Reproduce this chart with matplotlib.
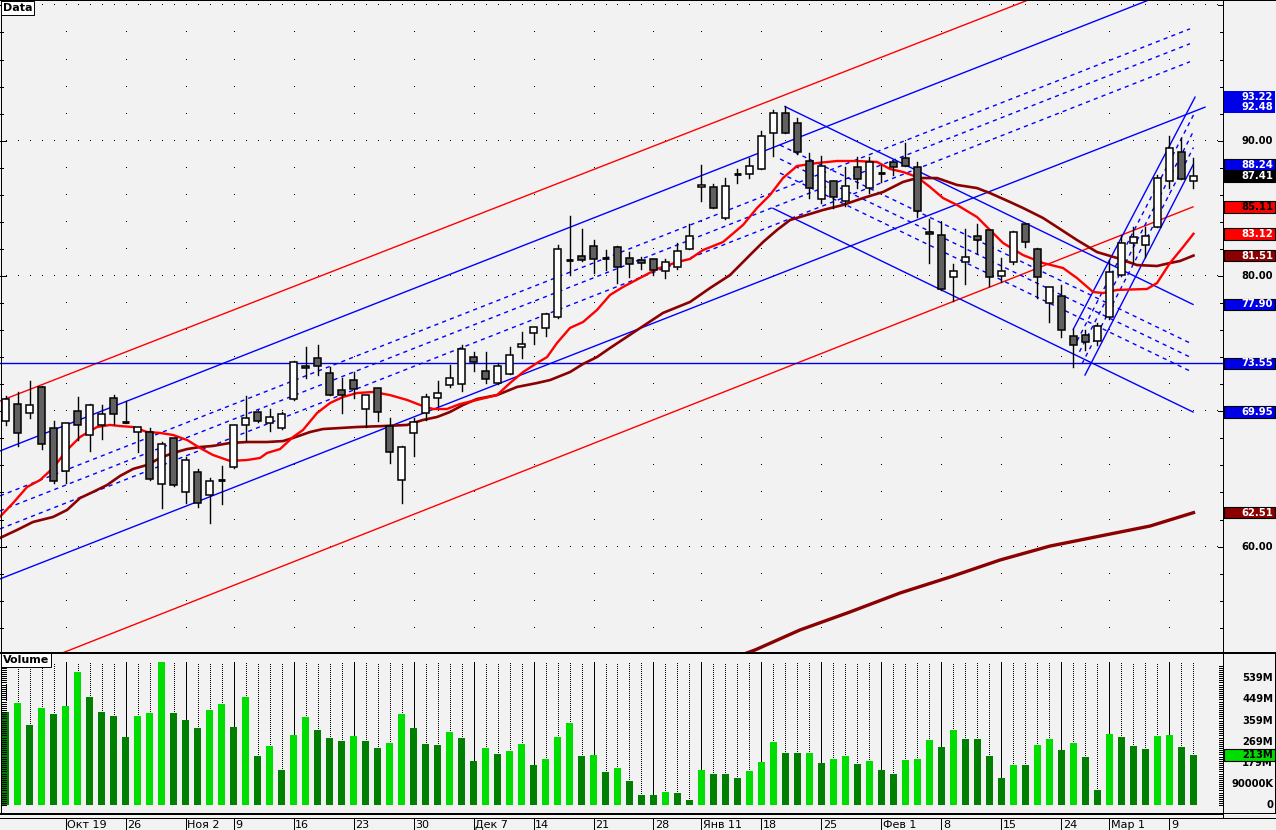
import numpy as np
import matplotlib.pyplot as plt
from matplotlib.patches import Rectangle
from matplotlib.lines import Line2D

# ---- Данные: дневные свечи (индекс = торговый день) ----
opens = [69.26, 70.51, 69.85, 71.77, 68.74, 65.56, 70.00, 68.22, 68.96, 70.96,
         69.23, 68.45, 68.45, 64.60, 68.00, 64.01, 65.49, 63.79, 64.90, 65.86,
         68.96, 69.92, 69.11, 68.74, 70.89, 73.35, 73.91, 72.81, 71.55, 72.29,
         70.14, 71.70, 68.94, 64.90, 68.37, 69.90, 70.96, 71.92, 72.00, 73.99,
         72.95, 72.07, 72.73, 74.73, 75.76, 76.13, 76.94, 81.18, 81.45, 82.19,
         81.33, 82.12, 81.31, 81.16, 81.23, 80.35, 80.64, 81.97, 86.58, 86.55,
         84.26, 87.56, 87.51, 87.91, 90.54, 92.02, 91.28, 88.48, 85.67, 87.00,
         85.54, 88.03, 86.48, 87.61, 88.40, 88.70, 88.08, 83.23, 83.00, 79.95,
         81.01, 82.98, 83.40, 79.99, 81.01, 83.82, 81.97, 78.00, 78.50, 75.54,
         75.61, 75.17, 76.94, 80.05, 82.41, 82.27, 83.60, 87.00, 89.14, 87.00]
highs = [71.10, 71.40, 72.24, 71.90, 69.28, 69.15, 71.06, 70.54, 70.47, 71.20,
         70.74, 68.85, 68.74, 67.76, 68.00, 66.60, 65.71, 65.05, 65.96, 69.00,
         71.13, 69.95, 70.17, 69.97, 73.74, 74.78, 74.90, 73.25, 72.44, 72.88,
         71.18, 71.70, 69.48, 67.44, 69.48, 71.28, 72.24, 73.45, 74.87, 74.41,
         74.36, 73.59, 74.75, 75.84, 76.21, 77.24, 82.29, 84.43, 83.47, 82.66,
         81.92, 82.24, 81.80, 81.43, 81.23, 81.23, 82.41, 83.82, 88.20, 86.78,
         87.22, 87.91, 88.70, 90.72, 92.27, 92.57, 91.70, 89.07, 88.87, 87.00,
         88.08, 88.80, 88.82, 88.20, 88.52, 89.85, 88.45, 84.19, 84.02, 80.89,
         83.47, 83.82, 83.40, 81.30, 83.33, 83.82, 82.09, 79.16, 79.33, 76.06,
         76.01, 76.50, 81.18, 83.03, 83.65, 83.65, 87.47, 90.35, 90.17, 88.70]
lows = [68.99, 67.44, 69.53, 67.19, 64.68, 64.73, 67.88, 67.09, 67.98, 69.04,
        69.11, 67.02, 64.95, 62.83, 64.50, 63.20, 62.95, 61.72, 63.12, 65.80,
        67.83, 69.22, 68.57, 68.70, 70.85, 72.49, 72.68, 71.17, 69.85, 71.00,
        68.87, 69.31, 66.15, 63.20, 66.72, 69.36, 70.39, 71.82, 71.53, 73.00,
        72.11, 72.02, 72.73, 73.96, 74.97, 75.59, 76.87, 80.07, 81.10, 80.25,
        80.44, 79.46, 79.95, 80.52, 80.07, 79.83, 80.52, 81.97, 85.57, 85.00,
        84.21, 86.85, 87.22, 87.90, 88.90, 90.54, 88.99, 85.79, 85.37, 85.00,
        85.17, 86.53, 86.16, 86.92, 87.47, 88.13, 84.34, 80.94, 79.00, 78.15,
        79.41, 81.67, 79.26, 79.56, 80.86, 82.17, 78.40, 76.62, 75.47, 73.25,
        74.53, 74.90, 76.80, 80.00, 80.98, 81.43, 83.60, 86.48, 87.14, 86.53]
closes = [70.88, 68.37, 70.44, 67.56, 64.87, 69.11, 68.96, 70.44, 69.78, 69.78,
          69.23, 68.82, 64.97, 67.56, 64.53, 66.40, 63.20, 64.82, 64.90, 68.96,
          69.53, 69.26, 69.60, 69.78, 73.67, 73.18, 73.35, 71.18, 71.18, 71.62,
          71.18, 69.92, 66.97, 67.34, 69.19, 71.03, 71.33, 72.44, 74.58, 73.62,
          72.36, 73.32, 74.14, 74.95, 76.21, 77.17, 81.97, 81.18, 81.16, 81.23,
          81.33, 80.69, 80.86, 80.94, 80.42, 81.04, 81.82, 82.93, 86.73, 85.00,
          86.63, 87.56, 88.15, 90.37, 92.02, 90.59, 89.19, 86.48, 88.13, 85.81,
          86.63, 87.15, 88.40, 87.61, 88.03, 88.13, 84.78, 83.08, 79.01, 80.34,
          81.43, 82.64, 79.95, 80.34, 83.23, 82.49, 79.90, 79.16, 75.98, 74.87,
          75.10, 76.28, 80.27, 82.41, 82.86, 82.93, 87.22, 89.44, 87.14, 87.41]
# объём, млн
volumes = [396, 434, 339, 412, 386, 420, 564, 458, 395, 378,
           288, 378, 390, 607, 390, 361, 327, 403, 429, 331,
           458, 208, 250, 148, 298, 375, 319, 286, 273, 294,
           273, 243, 264, 387, 328, 260, 256, 311, 286, 188,
           243, 218, 230, 260, 171, 196, 290, 349, 209, 213,
           141, 158, 103, 44, 44, 56, 52, 22, 150, 133,
           133, 116, 146, 184, 269, 222, 222, 224, 179, 196,
           209, 175, 188, 150, 133, 192, 196, 277, 247, 319,
           281, 281, 209, 116, 171, 171, 256, 281, 235, 264,
           205, 65, 302, 290, 252, 239, 294, 298, 247, 213]

# начало недель и подписи дат
week_idx = [5, 10, 15, 19, 24, 29, 34, 39, 44, 49, 54, 58, 63, 68, 73, 78, 83, 88, 92, 97]
week_lbl = ['Окт 19', '26', 'Ноя 2', '9', '16', '23', '30', 'Дек 7', '14', '21',
            '28', 'Янв 11', '18', '25', 'Фев 1', '8', '15', '24', 'Мар 1', '9']

# скользящие средние (индекс, цена)
ma_fast_x = [-0.46, 0.63, 1.79, 2.88, 3.96, 5.13, 6.21, 7.63, 8.71, 9.54, 10.63, 11.79,
             12.88, 13.96, 15.13, 16.21, 17.29, 18.71, 20.13, 21.21, 21.79, 22.88, 23.96,
             24.79, 25.96, 27.04, 28.13, 29.29, 30.63, 32.04, 33.46, 34.54, 35.63, 36.79,
             37.88, 39.29, 40.96, 42.04, 43.13, 44.29, 45.13, 45.96, 47.04, 48.13, 49.29,
             50.38, 51.46, 54.29, 55.96, 57.04, 58.13, 59.79, 61.46, 62.63, 63.71, 64.79,
             65.96, 67.63, 69.29, 70.96, 72.63, 73.71, 74.79, 75.96, 77.04, 78.13, 79.29,
             80.96, 82.04, 83.13, 84.79, 86.46, 88.13, 89.29, 90.63, 91.46, 92.63, 95.13,
             95.96, 97.04, 98.13, 99.0]
ma_fast_y = [62.21, 63.22, 64.40, 64.92, 65.81, 67.14, 68.10, 68.84, 68.99, 68.91, 68.84, 68.47,
             68.40, 68.25, 67.88, 67.29, 66.77, 66.33, 66.40, 66.55, 66.92, 67.21, 68.10,
             68.62, 69.87, 70.61, 71.06, 71.35, 71.43, 71.20, 70.84, 70.47, 70.17, 70.17,
             70.54, 70.84, 71.20, 72.09, 72.90, 73.57, 74.01, 75.05, 76.16, 76.60, 77.49,
             78.60, 79.19, 80.52, 81.03, 81.26, 81.92, 82.51, 83.77, 85.03, 85.99, 87.24,
             88.13, 88.35, 88.50, 88.50, 88.43, 87.91, 87.69, 87.32, 86.58, 85.76, 85.25,
             84.36, 83.40, 82.44, 81.55, 80.96, 80.59, 79.85, 78.82, 78.74, 78.97, 79.04,
             79.48, 80.96, 82.14, 83.12]
ma_mid_x = [-0.46, 0.96, 2.29, 3.96, 5.13, 6.21, 7.29, 8.46, 9.54, 10.63, 11.79, 12.88,
            13.96, 15.13, 16.21, 17.29, 18.71, 20.13, 21.79, 23.13, 23.96, 25.38, 26.46,
            29.29, 31.46, 33.46, 34.79, 35.96, 37.04, 38.13, 39.29, 40.96, 42.63, 44.29,
            45.38, 47.04, 48.13, 49.29, 50.38, 54.79, 57.04, 58.71, 60.38, 62.04, 63.13,
            64.29, 65.38, 66.46, 68.13, 69.79, 71.46, 73.13, 74.79, 75.96, 77.63, 79.29,
            80.96, 82.04, 83.71, 84.79, 86.46, 87.63, 89.29, 90.96, 92.63, 94.29, 95.96,
            97.04, 97.88, 99.0]
ma_mid_y = [60.64, 61.23, 61.82, 62.19, 62.71, 63.59, 64.04, 64.55, 65.22, 65.74, 66.03, 66.55,
            66.92, 67.21, 67.36, 67.44, 67.66, 67.73, 67.73, 67.80, 68.03, 68.47, 68.69,
            68.84, 68.91, 68.99, 69.36, 69.58, 69.95, 70.47, 70.91, 71.20, 71.80, 72.09,
            72.31, 72.90, 73.50, 74.01, 74.68, 77.27, 78.08, 79.11, 80.07, 81.55, 82.51,
            83.40, 84.14, 84.43, 84.88, 85.25, 85.76, 86.21, 86.95, 87.24, 87.24, 86.73,
            86.50, 86.13, 85.47, 85.03, 84.29, 83.62, 82.66, 81.77, 81.33, 80.81, 80.74,
            80.96, 81.11, 81.51]
ma_slow_x = [57.9, 62.46, 66.21, 70.38, 74.54, 78.71, 82.88, 87.04, 91.21, 95.38, 99.0]
ma_slow_y = [50.88, 52.36, 53.84, 55.17, 56.57, 57.75, 59.01, 60.04, 60.78, 61.52, 62.51]

# трендовые линии: ((x0, y0), (x1, y1), цвет, стиль)
trend_lines = [
    ((-0.46, 70.76), (88.0, 101.36), 'red', '-'),
    ((-0.46, 50.32), (98.96, 85.11), 'red', '-'),
    ((-0.46, 67.07), (96.0, 100.65), 'blue', '-'),
    ((-0.46, 57.61), (99.96, 92.48), 'blue', '-'),
    ((-0.46, 63.75), (98.71, 98.27), 'blue', '--'),
    ((-0.46, 62.64), (98.71, 97.17), 'blue', '--'),
    ((-0.46, 61.31), (98.71, 95.84), 'blue', '--'),
    ((64.96, 92.52), (98.96, 77.90), 'blue', '-'),
    ((63.96, 85.00), (98.96, 69.95), 'blue', '-'),
    ((64.54, 89.68), (98.71, 75.05), 'blue', '--'),
    ((64.54, 88.65), (98.71, 74.01), 'blue', '--'),
    ((64.54, 87.61), (98.71, 72.98), 'blue', '--'),
    ((88.98, 76.06), (99.13, 93.22), 'blue', '-'),
    ((89.96, 72.68), (98.98, 88.24), 'blue', '-'),
    ((89.3, 75.2), (99.0, 91.9), 'blue', '--'),
    ((89.5, 74.4), (99.0, 90.7), 'blue', '--'),
    ((89.7, 73.5), (99.0, 89.5), 'blue', '--'),
]
h_level = 73.55

# метки на правой шкале: (значение, фон, цвет текста)
price_marks = [(88.24, '#0000E8', 'white'), (87.41, 'black', 'white'),
               (85.11, '#FF0000', 'black'), (83.12, '#FF0000', 'white'),
               (81.51, '#8B0000', 'white'), (77.90, '#0000E8', 'white'),
               (73.55, '#0000E8', 'white'), (69.95, '#0000E8', 'white'),
               (62.51, '#8B0000', 'white')]
vol_ticks = [0, 89.83, 179.66, 269.5, 359.3, 449.2, 539.0]
vol_tick_lbl = ['0', '90000K', '179M', '269M', '359M', '449M', '539M']

# ---- Разметка в пикселях ----
W, H = 1276, 830
PR = 1223        # правая граница области графика
BG = '#F2F2F2'
PX = 0.72        # 1 пиксель в пунктах
FS = 7.2         # шрифт правой шкалы

plt.rcParams['font.family'] = ['DejaVu Sans']
fig = plt.figure(figsize=(W / 100, H / 100), dpi=100, facecolor=BG)

ax = fig.add_axes([0, (H - 652) / H, PR / W, 652 / H])
vax = fig.add_axes([0, (H - 814) / H, PR / W, 160 / H])
for a in (ax, vax):
    a.set_facecolor(BG)
    a.axis('off')
    a.set_xlim(-0.46, 101.46)
ax.set_ylim(52.21, 100.40)
vax.set_ylim(-36.9, 641.9)


def fig_line(x0, y0, x1, y1, lw=1, color='black'):
    fig.add_artist(Line2D([x0 / W, x1 / W], [1 - y0 / H, 1 - y1 / H],
                          transform=fig.transFigure, lw=lw * PX, color=color))


n = len(closes)

# сетка из точек
ylv = np.arange(54, 101, 2)
for w in week_idx:
    ax.plot([w] * len(ylv), ylv, ',', color='black')
for lv in (60, 70, 80, 90, 100):
    ax.plot(np.arange(0, 102), [lv] * 102, ',', color='black')

# засечки слева и справа на шкале цены
yt = ax.get_yaxis_transform()
for lv in ylv:
    big = lv % 10 == 0
    ax.plot([0, (6 if big else 3) / PR], [lv, lv], color='black', lw=PX, transform=yt, clip_on=False)
    ax.plot([1 - (5 if big else 3) / PR, 1], [lv, lv], color='black', lw=PX, transform=yt, clip_on=False)

# трендовые линии
for (x0, y0), (x1, y1), c, ls in trend_lines:
    style = (0, (3, 3)) if ls == '--' else '-'
    ax.plot([x0, x1], [y0, y1], color=c, lw=1.0, linestyle=style, zorder=2)
ax.axhline(h_level, color='#0000E8', lw=1.0, zorder=2)

# скользящие средние
ax.plot(ma_slow_x, ma_slow_y, color='#8B0000', lw=2.4, zorder=3)
ax.plot(ma_mid_x, ma_mid_y, color='#8B0000', lw=1.9, zorder=3)
ax.plot(ma_fast_x, ma_fast_y, color='#FF0000', lw=1.7, zorder=3)

# свечи
bw = 0.66
for k in range(n):
    o, h, l, c = opens[k], highs[k], lows[k], closes[k]
    ax.plot([k, k], [l, h], color='black', lw=1.0, zorder=4)
    if abs(c - o) < 0.05:
        ax.plot([k - bw / 2, k + bw / 2], [c, c], color='black', lw=2.0, zorder=5,
                solid_capstyle='butt')
    else:
        fc = 'white' if c > o else '#606060'
        ax.add_patch(Rectangle((k - bw / 2, min(o, c)), bw, abs(c - o), facecolor=fc,
                               edgecolor='black', lw=1.1, zorder=5))

# объём
vtop = 608
for k in range(n):
    up = k > 0 and volumes[k] > volumes[k - 1]
    col = '#00DD00' if up else '#008000'
    vax.bar(k, volumes[k], width=0.6, color=col, zorder=2)
    style = '-' if k in week_idx else (0, (1, 2))
    vax.plot([k, k], [volumes[k], vtop], color='black', lw=PX, linestyle=style, zorder=1,
             antialiased=False)

vyt = vax.get_yaxis_transform()
for v in np.arange(0, 600, 8.983):
    vax.plot([0.002, 0.002 + 4 / PR], [v, v], color='black', lw=PX, transform=vyt, clip_on=False)
    vax.plot([1 - 4 / PR, 1], [v, v], color='black', lw=PX, transform=vyt, clip_on=False)

# рамки панелей
fig_line(0, 0.5, W, 0.5)
fig_line(0.5, 0, 0.5, 814)
fig_line(PR, 0, PR, 817.5)
fig_line(0, 652.5, W, 652.5, lw=2)
fig_line(0, 814, PR, 814, lw=2)
fig_line(0, 817.5, W, 817.5)
fig_line(PR, 813, W - 1.5, 813)
fig_line(W - 1.5, 652, W - 1.5, 813)

# подписи шкалы цены
lbl_x = 1273 / PR
for lv in (60, 70, 80, 90):
    ax.text(lbl_x, lv, f'{lv:.2f}', transform=yt, ha='right', va='center',
            fontsize=FS, fontweight='bold', clip_on=False, zorder=6)

box_l = 1224 / PR
box_w = 51 / PR
box_h = 11.5 / 13.53
ax.add_patch(Rectangle((box_l, 92.48 - box_h / 2), box_w, 93.22 - 92.48 + box_h,
                       transform=yt, facecolor='#0000E8', edgecolor='none',
                       clip_on=False, zorder=7))
for v in (93.22, 92.48):
    ax.text(lbl_x, v, f'{v:.2f}', transform=yt, ha='right', va='center', color='white',
            fontsize=FS, fontweight='bold', clip_on=False, zorder=8)
for v, bg, fg in price_marks:
    ax.add_patch(Rectangle((box_l, v - box_h / 2), box_w, box_h, transform=yt,
                           facecolor=bg, edgecolor='black', lw=0.8, clip_on=False, zorder=7))
    ax.text(lbl_x, v, f'{v:.2f}', transform=yt, ha='right', va='center', color=fg,
            fontsize=FS, fontweight='bold', clip_on=False, zorder=8)

# подписи шкалы объёма
for v, s in zip(vol_ticks, vol_tick_lbl):
    vax.text(lbl_x, v, s, transform=vyt, ha='right', va='center',
             fontsize=FS, fontweight='bold', clip_on=False)
vb_h = 11.5 / 0.2357
vax.add_patch(Rectangle((box_l, volumes[-1] - vb_h / 2), box_w, vb_h, transform=vyt,
                        facecolor='#00DD00', edgecolor='black', lw=0.8, clip_on=False, zorder=7))
vax.text(lbl_x, volumes[-1], f'{volumes[-1]}M', transform=vyt, ha='right', va='center',
         fontsize=FS, fontweight='bold', clip_on=False, zorder=8)

# даты
xt = vax.get_xaxis_transform()
for w, s in zip(week_idx, week_lbl):
    vax.plot([w, w], [-4 / 160, -16 / 160], color='black', lw=PX, transform=xt, clip_on=False)
    vax.text(w + 0.12, -10.5 / 160, s, transform=xt, ha='left', va='center',
             fontsize=8, clip_on=False)

# заголовки панелей
fig.text(3 / W, 1 - 8 / H, 'Data', fontsize=8, fontweight='bold', va='center',
         bbox=dict(boxstyle='square,pad=0.15', facecolor='white', edgecolor='black', lw=0.7))
fig.text(3 / W, 1 - 660 / H, 'Volume', fontsize=8, fontweight='bold', va='center',
         bbox=dict(boxstyle='square,pad=0.15', facecolor='white', edgecolor='black', lw=0.7))

fig.savefig('out.png', dpi=100, facecolor=BG)
